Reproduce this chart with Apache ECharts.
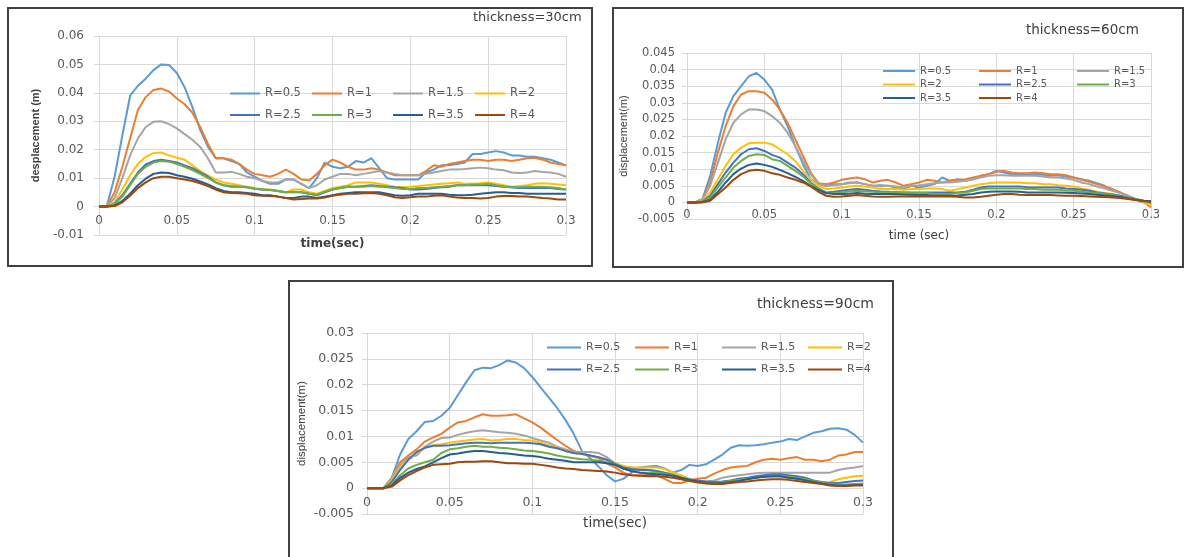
<!DOCTYPE html>
<html>
<head>
<meta charset="utf-8">
<script src="https://cdn.jsdelivr.net/npm/echarts@6/dist/echarts.min.js"></script>
<style>
  html, body { margin: 0; padding: 0; background: #fff; }
  #chart { width: 1189px; height: 557px; }
</style>
</head>
<body>
<div id="chart"></div>
<script>
// Sample instants (sec), one every 5 ms, shared by all three panels.
const TIME = [
  0, 0.005, 0.01, 0.015, 0.02, 0.025, 0.03, 0.035, 0.04, 0.045,
  0.05, 0.055, 0.06, 0.065, 0.07, 0.075, 0.08, 0.085, 0.09, 0.095,
  0.1, 0.105, 0.11, 0.115, 0.12, 0.125, 0.13, 0.135, 0.14, 0.145,
  0.15, 0.155, 0.16, 0.165, 0.17, 0.175, 0.18, 0.185, 0.19, 0.195,
  0.2, 0.205, 0.21, 0.215, 0.22, 0.225, 0.23, 0.235, 0.24, 0.245,
  0.25, 0.255, 0.26, 0.265, 0.27, 0.275, 0.28, 0.285, 0.29, 0.295, 0.3,
];

const R_NAMES = ["R=0.5", "R=1", "R=1.5", "R=2", "R=2.5", "R=3", "R=3.5", "R=4"];

// thickness = 30 cm
const T30_R05 = [0,0,.0105,.025,.039,.0425,.045,.048,.05,.0498,.047,.042,.035,.027,.021,.017,.017,.016,.015,.012,.0105,.009,.008,.008,.0095,.0095,.008,.0065,.01,.0155,.014,.0135,.014,.016,.0155,.017,.0135,.01,.0095,.0095,.0095,.0095,.012,.013,.0145,.0145,.015,.0155,.0185,.0185,.019,.0195,.019,.018,.018,.0175,.0175,.017,.0165,.0155,.0145];
const T30_R1 = [0,0,.005,.014,.024,.034,.0385,.041,.0415,.0405,.038,.036,.033,.028,.022,.017,.017,.0165,.015,.013,.0115,.011,.0105,.0115,.013,.0115,.0095,.0092,.0115,.0145,.0165,.0155,.014,.013,.013,.0135,.013,.012,.011,.011,.011,.011,.0125,.0145,.014,.015,.0155,.016,.0165,.0165,.016,.0165,.0165,.016,.0165,.017,.0172,.0165,.0155,.015,.0145];
const T30_R15 = [0,0,.003,.01,.018,.024,.028,.0298,.03,.029,.0275,.0255,.0235,.021,.017,.012,.012,.0122,.0115,.0105,.01,.009,.0085,.0085,.0095,.0095,.008,.0065,.0075,.0095,.0105,.0115,.0115,.011,.0115,.012,.0125,.012,.0115,.011,.011,.011,.0115,.012,.0125,.013,.013,.0132,.0135,.0137,.0135,.013,.0128,.012,.0118,.012,.0125,.0122,.012,.0115,.0105];
const T30_R2 = [0,0,.0015,.006,.011,.015,.0175,.0188,.019,.018,.0172,.0165,.0145,.0125,.011,.0095,.0085,.008,.0075,.007,.0065,.006,.006,.0055,.005,.006,.006,.005,.0045,.0055,.0065,.007,.0075,.0085,.0085,.0085,.008,.0075,.007,.0068,.007,.0072,.0075,.0078,.008,.0082,.0085,.008,.008,.0082,.0085,.008,.0075,.007,.0072,.0075,.008,.0082,.008,.0078,.0075];
const T30_R25 = [0,0,.001,.004,.008,.012,.0148,.016,.0165,.016,.0155,.0145,.0135,.012,.0105,.0085,.0075,.007,.007,.0068,.0063,.006,.0058,.0055,.005,.005,.005,.0045,.004,.005,.006,.0065,.007,.007,.0072,.0075,.0072,.007,.0068,.0065,.006,.006,.0062,.0065,.0068,.007,.0075,.0075,.0075,.0075,.0075,.0072,.007,.0068,.0065,.0065,.0065,.0065,.0065,.0062,.006];
const T30_R3 = [0,0,.001,.0035,.0075,.0115,.014,.0155,.016,.0158,.015,.014,.0128,.0115,.01,.0085,.0075,.0072,.007,.0068,.0063,.006,.0058,.0055,.005,.0052,.005,.0045,.0042,.0052,.006,.0065,.007,.007,.007,.0072,.007,.0068,.0065,.0062,.0062,.0065,.0065,.0068,.007,.0072,.0075,.0075,.0078,.0078,.008,.0075,.007,.0068,.0068,.007,.007,.007,.0068,.0065,.006];
const T30_R35 = [0,0,.0003,.002,.0045,.0075,.0098,.0115,.012,.0118,.011,.0105,.0098,.0088,.0078,.0065,.0055,.005,.005,.0048,.0045,.004,.004,.0035,.003,.003,.0035,.0035,.003,.0035,.004,.0045,.0048,.005,.005,.005,.005,.0045,.004,.0038,.004,.0045,.0045,.0045,.0045,.0042,.004,.004,.0042,.0045,.0048,.005,.005,.0048,.0048,.0045,.0045,.0045,.0045,.0045,.0045];
const T30_R4 = [0,0,.0002,.0015,.0038,.0065,.0085,.01,.0105,.0105,.01,.0095,.009,.0082,.0072,.006,.005,.0048,.0047,.0045,.004,.0038,.0037,.0035,.003,.0025,.0027,.0028,.0028,.0032,.0038,.0042,.0045,.0045,.0047,.0048,.0045,.004,.0033,.003,.0033,.0035,.0035,.0038,.004,.0035,.0032,.003,.003,.0028,.003,.0035,.0037,.0037,.0035,.0035,.0033,.003,.0028,.0025,.0025];

// thickness = 60 cm
const T60_R05 = [0,0,.001,.008,.018,.027,.032,.035,.038,.039,.037,.034,.028,.023,.017,.0115,.007,.0055,.005,.0055,.0055,.006,.006,.0055,.005,.0052,.005,.0045,.004,.005,.0045,.005,.0055,.0075,.0065,.007,.0065,.007,.008,.0085,.0095,.009,.0085,.0085,.0085,.0085,.0083,.008,.0082,.0078,.0075,.007,.0065,.0058,.005,.004,.003,.0018,.0008,0,-.0005];
const T60_R1 = [0,0,.001,.006,.015,.023,.029,.0325,.0335,.0335,.033,.031,.028,.024,.019,.014,.009,.0058,.0055,.006,.0068,.0072,.0075,.007,.006,.0065,.0068,.006,.005,.0055,.006,.0068,.0065,.006,.0065,.0068,.007,.0075,.008,.0085,.0092,.0095,.009,.0088,.0088,.009,.0088,.0085,.0085,.0082,.0075,.0068,.0062,.0055,.0048,.004,.003,.002,.001,.0002,-.0015];
const T60_R15 = [0,0,.0008,.005,.012,.019,.024,.0265,.028,.028,.0275,.026,.024,.021,.017,.0125,.0085,.0055,.005,.0052,.0055,.0058,.006,.0055,.005,.0048,.005,.0048,.0045,.005,.0052,.0055,.0058,.006,.006,.0062,.0065,.007,.0075,.008,.0082,.0082,.008,.008,.008,.008,.0078,.0075,.0075,.0072,.0068,.006,.0055,.0048,.0042,.0035,.0028,.002,.001,.0003,-.0005];
const T60_R2 = [0,0,.0005,.003,.007,.011,.0145,.0165,.0178,.018,.018,.0175,.016,.0145,.0125,.0095,.007,.005,.004,.0042,.0045,.0048,.005,.0048,.0045,.004,.004,.004,.0038,.004,.004,.0042,.0042,.004,.0035,.004,.0045,.005,.0055,.0058,.006,.006,.006,.006,.0058,.0058,.0055,.0055,.0052,.005,.0048,.0042,.0038,.0032,.0028,.0025,.002,.0015,.001,.0002,-.001];
const T60_R25 = [0,0,.0003,.002,.0055,.009,.012,.0145,.016,.0163,.0155,.0143,.0135,.012,.0105,.0085,.006,.0042,.003,.0032,.0035,.0038,.004,.0038,.0035,.0033,.0032,.003,.003,.003,.003,.003,.003,.003,.003,.003,.0032,.0038,.0045,.0048,.0048,.0048,.0048,.0048,.0046,.0045,.0045,.0045,.0045,.0042,.004,.0038,.0035,.003,.0027,.0024,.002,.0015,.001,.0005,0];
const T60_R3 = [0,0,.0002,.0015,.0045,.0075,.0105,.0125,.014,.0145,.0143,.013,.0125,.011,.0095,.0078,.0058,.004,.0028,.0028,.003,.0033,.0035,.0033,.0032,.003,.003,.0032,.003,.0028,.0028,.0028,.0025,.0025,.0025,.0028,.003,.0035,.004,.0042,.0042,.0042,.0042,.0042,.004,.004,.0038,.0038,.0038,.0036,.0035,.0033,.003,.0028,.0025,.0022,.0018,.0014,.001,.0005,.0003];
const T60_R35 = [0,0,.0001,.0008,.0032,.006,.0085,.0102,.0113,.0117,.0113,.0107,.0098,.0088,.0077,.0065,.005,.0037,.0028,.0025,.0025,.0026,.0028,.0026,.0025,.0025,.0025,.0025,.0024,.0023,.0022,.0022,.002,.002,.002,.0021,.0023,.0025,.003,.0032,.0033,.0033,.0033,.0032,.003,.003,.003,.003,.003,.0029,.0028,.0027,.0025,.0023,.0021,.0019,.0016,.0012,.0008,.0005,.0004];
const T60_R4 = [0,0,0,.0005,.0025,.0045,.0068,.0085,.0095,.0098,.0095,.0088,.0083,.0075,.0068,.006,.0048,.0032,.002,.0017,.0018,.002,.0022,.002,.0018,.0017,.0017,.0018,.0018,.0018,.0018,.0018,.0018,.0018,.0018,.0017,.0015,.0015,.0017,.002,.0023,.0025,.0025,.0023,.0022,.0022,.0022,.0022,.0021,.002,.002,.0019,.0018,.0017,.0016,.0015,.0013,.001,.0007,.0004,.0003];

// thickness = 90 cm
const T90_R05 = [0,0,0,.002,.0065,.0095,.011,.0128,.013,.014,.0155,.018,.0205,.0228,.0233,.0232,.0238,.0247,.0243,.0232,.0215,.0195,.0175,.0155,.0132,.0105,.0072,.0058,.0042,.0025,.0013,.0018,.003,.004,.0042,.0043,.0038,.003,.0035,.0045,.0043,.0046,.0055,.0065,.0078,.0083,.0082,.0083,.0085,.0088,.009,.0095,.0093,.01,.0107,.011,.0115,.0116,.0113,.0103,.0088];
const T90_R1 = [0,0,0,.002,.005,.0063,.0075,.009,.0098,.0105,.0117,.0127,.013,.0137,.0143,.014,.014,.0141,.0143,.0135,.0127,.0117,.0105,.0093,.0082,.0072,.0068,.0062,.0058,.0048,.004,.003,.0025,.0025,.0025,.0025,.0018,.001,.001,.0015,.0018,.002,.0028,.0035,.004,.0042,.0043,.005,.0055,.0057,.0055,.0058,.006,.0055,.0055,.0052,.0055,.0063,.0065,.007,.007];
const T90_R15 = [0,0,0,.002,.0045,.006,.0063,.008,.009,.0097,.0098,.0103,.0107,.011,.0112,.011,.0108,.0107,.0105,.0102,.0097,.0092,.0088,.008,.0075,.007,.007,.007,.0068,.006,.0048,.0042,.004,.0038,.0035,.0033,.003,.0028,.0022,.0017,.0013,.0013,.0015,.002,.0023,.0025,.0027,.0029,.003,.003,.003,.003,.003,.003,.003,.003,.003,.0035,.0038,.004,.0043];
const T90_R2 = [0,0,0,.0015,.004,.0055,.0068,.0078,.0083,.0085,.0088,.009,.0092,.0094,.0095,.0092,.0093,.0095,.0095,.0093,.0092,.0088,.0083,.0078,.0072,.0068,.0066,.0063,.006,.0055,.0048,.0043,.004,.004,.004,.004,.0037,.003,.0025,.0018,.0013,.001,.001,.0012,.0015,.0017,.0018,.002,.0022,.0022,.0022,.002,.0018,.0015,.0012,.001,.0012,.0017,.002,.0023,.0024];
const T90_R25 = [0,0,0,.0012,.0035,.0055,.007,.0078,.0082,.0082,.0083,.0085,.0087,.0088,.0088,.0087,.0088,.0088,.0088,.0088,.0087,.0085,.008,.0077,.0072,.0068,.0066,.0063,.006,.0055,.0047,.004,.0037,.0035,.0035,.0033,.003,.0025,.002,.0017,.0015,.0013,.0012,.0013,.0015,.0018,.002,.0023,.0025,.0027,.0027,.0025,.0023,.002,.0015,.0012,.001,.001,.0012,.0014,.0015];
const T90_R3 = [0,0,0,.0008,.0025,.0038,.0045,.005,.0055,.0068,.0075,.0077,.008,.0082,.008,.008,.0078,.0077,.0075,.0073,.0072,.007,.0067,.0063,.006,.0058,.0056,.0055,.0053,.005,.0045,.0038,.0033,.003,.003,.003,.0028,.0025,.002,.0016,.0013,.001,.001,.0012,.0014,.0016,.0018,.002,.0022,.0024,.0024,.0022,.002,.0017,.0014,.0011,.0008,.0007,.0007,.0008,.0009];
const T90_R35 = [0,0,0,.0005,.002,.003,.0037,.0042,.005,.0058,.0065,.0067,.007,.0072,.0072,.007,.0068,.0067,.0065,.0063,.0062,.006,.0057,.0055,.0053,.005,.005,.005,.005,.0048,.0045,.0038,.0033,.003,.0028,.0027,.0026,.0024,.002,.0016,.0013,.001,.0009,.001,.0012,.0014,.0017,.002,.0022,.0023,.0023,.002,.0018,.0015,.0012,.0009,.0006,.0005,.0005,.0006,.0006];
const T90_R4 = [0,0,0,.0003,.0015,.0025,.0033,.004,.0045,.0046,.0047,.005,.0051,.0051,.0052,.0052,.005,.0048,.0048,.0047,.0047,.0045,.0043,.004,.0038,.0037,.0035,.0034,.0033,.0032,.003,.0027,.0025,.0024,.0023,.0023,.0022,.002,.0017,.0014,.0011,.0009,.0008,.0008,.001,.0012,.0013,.0015,.0016,.0017,.0017,.0016,.0014,.0012,.001,.0008,.0005,.0004,.0004,.0005,.0005];

// Office 2013 default palette, one colour per R value.
const COLORS = ["#5B9BD5", "#ED7D31", "#A5A5A5", "#FFC000", "#4472C4", "#70AD47", "#255E91", "#9E480E"];
const GRID_GREY = "#D9D9D9";
const TEXT_GREY = "#595959";
const FONT = "DejaVu Sans";

// Layout per panel (px).
const PANELS = [
  {
    title: "thickness=30cm", titleAt: [473, 11], titleSize: 13,
    curves: [T30_R05, T30_R1, T30_R15, T30_R2, T30_R25, T30_R3, T30_R35, T30_R4],
    frame: [8, 8, 584, 258], grid: [99, 36, 467, 199],
    y: { min: -0.01, max: 0.06, step: 0.01, margin: 15, size: 12 },
    xLabel: { margin: 8, size: 12 },
    xName: "time(sec)", xGap: 31, xNameStyle: { fontSize: 12, fontWeight: "bold", fontFamily: FONT },
    yName: "desplacement (m)", yGap: 58, yNameStyle: { fontSize: 11, fontWeight: "bold", fontFamily: "Liberation Sans" },
    legendRows: [R_NAMES.slice(0, 4), R_NAMES.slice(4)],
    legendCols: [230, 312, 393, 475], legendTop: 87.5, legendPitch: 21, legendIcon: 30, legendSize: 11.5,
  },
  {
    title: "thickness=60cm", titleAt: [1026, 23], titleSize: 13.5,
    curves: [T60_R05, T60_R1, T60_R15, T60_R2, T60_R25, T60_R3, T60_R35, T60_R4],
    frame: [613, 8, 570, 259], grid: [687, 53, 464, 166],
    y: { min: -0.005, max: 0.045, step: 0.005, margin: 12, size: 11.5 },
    xLabel: { margin: 7, size: 11.5 },
    xName: "time (sec)", xGap: 27, xNameStyle: { fontSize: 12, fontFamily: FONT },
    yName: "displacement(m)", yGap: 58, yNameStyle: { fontSize: 11, fontFamily: "Liberation Sans" },
    legendRows: [R_NAMES.slice(0, 3), R_NAMES.slice(3, 6), R_NAMES.slice(6)],
    legendCols: [883, 979, 1077], legendTop: 66, legendPitch: 13.5, legendIcon: 32, legendSize: 10,
  },
  {
    title: "thickness=90cm", titleAt: [757, 297], titleSize: 14,
    curves: [T90_R05, T90_R1, T90_R15, T90_R2, T90_R25, T90_R3, T90_R35, T90_R4],
    frame: [289, 281, 604, 300], grid: [367, 333, 496, 181],
    y: { min: -0.005, max: 0.03, step: 0.005, margin: 13, size: 12.5 },
    xLabel: { margin: 8, size: 12.5 },
    xName: "time(sec)", xGap: 28, xNameStyle: { fontSize: 13.5, fontFamily: FONT },
    yName: "displacement(m)", yGap: 59, yNameStyle: { fontSize: 11.5, fontFamily: "Liberation Sans" },
    legendRows: [R_NAMES.slice(0, 4), R_NAMES.slice(4)],
    legendCols: [547, 635, 722, 808], legendTop: 342, legendPitch: 22, legendIcon: 34, legendSize: 11,
  },
];

const option = {
  animation: false,
  backgroundColor: "#fff",
  textStyle: { fontFamily: FONT },
  title: [],
  grid: [],
  xAxis: [],
  yAxis: [],
  legend: [],
  series: [],
  graphic: [],
};

PANELS.forEach((p, i) => {
  const [fx, fy, fw, fh] = p.frame;
  option.graphic.push({
    type: "rect", silent: true, z: 100,
    shape: { x: fx, y: fy, width: fw, height: fh },
    style: { fill: "none", stroke: "#404040", lineWidth: 2 },
  });

  option.title.push({
    text: p.title, left: p.titleAt[0], top: p.titleAt[1], padding: 0,
    textStyle: { fontSize: p.titleSize, fontWeight: "normal", color: "#404040", fontFamily: FONT },
  });

  const [gl, gt, gw, gh] = p.grid;
  option.grid.push({ left: gl, top: gt, width: gw, height: gh, containLabel: false });

  // Excel hangs the category labels off the zero line, not the plot bottom.
  // onZero did not take here, so lift the whole axis by the below-zero span.
  const zeroLift = gh * (0 - p.y.min) / (p.y.max - p.y.min);

  option.xAxis.push({
    type: "value", gridIndex: i, min: 0, max: 0.3, interval: 0.05,
    offset: -zeroLift,
    axisLine: { show: true, onZero: false, lineStyle: { color: GRID_GREY } },
    axisTick: { show: false },
    axisLabel: { margin: p.xLabel.margin, fontSize: p.xLabel.size, color: TEXT_GREY, fontFamily: FONT },
    splitLine: { show: true, lineStyle: { color: GRID_GREY, width: 1 } },
    name: p.xName, nameLocation: "middle", nameGap: p.xGap,
    nameTextStyle: { color: "#404040", ...p.xNameStyle },
  });

  option.yAxis.push({
    type: "value", gridIndex: i, min: p.y.min, max: p.y.max, interval: p.y.step,
    axisLine: { show: true, onZero: false, lineStyle: { color: GRID_GREY } },
    axisTick: { show: true, length: 5, lineStyle: { color: GRID_GREY } },
    axisLabel: { margin: p.y.margin, fontSize: p.y.size, color: TEXT_GREY, fontFamily: FONT },
    splitLine: { show: true, lineStyle: { color: GRID_GREY, width: 1 } },
    name: p.yName, nameLocation: "middle", nameGap: p.yGap,
    nameTextStyle: { color: "#404040", ...p.yNameStyle },
  });

  // One vertical legend per column, so entries line up like Excel's grid.
  p.legendCols.forEach((left, c) => {
    const names = p.legendRows.map((row) => row[c]).filter(Boolean);
    option.legend.push({
      data: names, left, top: p.legendTop, orient: "vertical",
      padding: 0, itemGap: p.legendPitch - p.legendSize,
      itemWidth: p.legendIcon, itemHeight: 2,
      icon: "rect", selectedMode: false,
      textStyle: { fontSize: p.legendSize, color: TEXT_GREY, fontFamily: FONT },
    });
  });

  p.curves.forEach((vals, k) => {
    option.series.push({
      name: R_NAMES[k], type: "line", xAxisIndex: i, yAxisIndex: i,
      symbol: "none", showSymbol: false,
      color: COLORS[k],
      lineStyle: { width: 2, color: COLORS[k] },
      data: TIME.map((t, j) => [t, vals[j]]),
    });
  });
});

const chart = echarts.init(document.getElementById("chart"), null, { renderer: "canvas" });
chart.setOption(option);
window.addEventListener("resize", () => chart.resize());
</script>
</body>
</html>
